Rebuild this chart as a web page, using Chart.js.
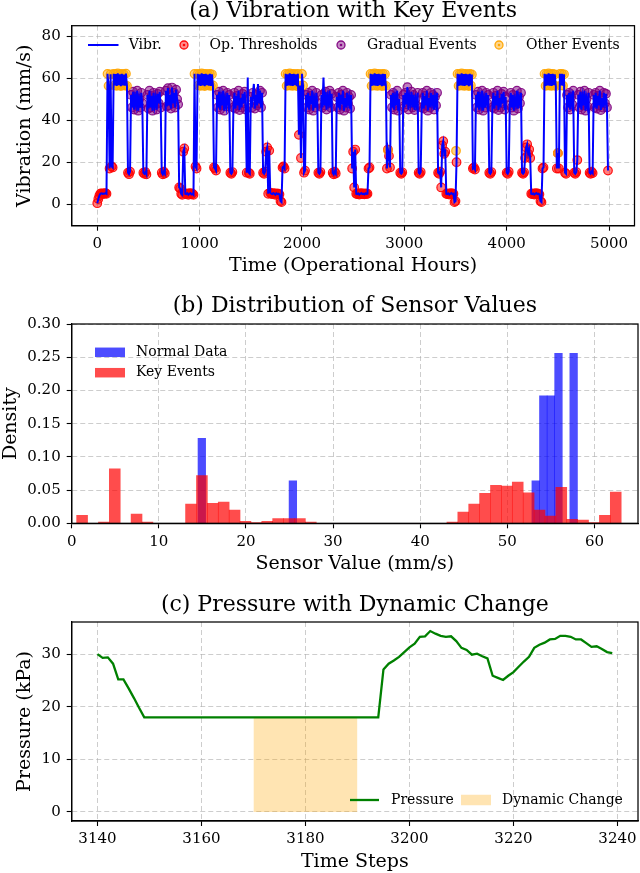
<!DOCTYPE html>
<html><head><meta charset="utf-8">
<script src="https://cdn.jsdelivr.net/npm/chart.js@4.4.1/dist/chart.umd.min.js"></script>
<style>
html,body{margin:0;padding:0;background:#fff;}
#wrap{position:relative;width:640px;height:873px;overflow:hidden;background:#fff;}
canvas{position:absolute;left:0;}
</style></head><body>
<div id="wrap">
<canvas id="ca" width="640" height="290" style="top:0px"></canvas>
<canvas id="cb" width="640" height="300" style="top:290px"></canvas>
<canvas id="cc" width="640" height="283" style="top:590px"></canvas>
</div>
<script>
// ---------------- DATA ----------------
// (a) vibration sampled every VIB_STEP hours starting at 0
const VIB_STEP = 10;
const vibValues = [
0.5,2.5,4,5,5.2,4.9,5.1,5,5.3,5,
62,56.3,17,61.8,18,17.5,62,56.5,61.9,56.3,
62.2,56.6,61.8,56.2,62,56.5,61.7,56.4,62.1,56.3,
15,14.3,15.5,52,46,53.5,45,51,47.5,54,
44.5,50,46,53,48,15,14.5,15.3,14.2,52,
45.5,54,46,51.5,44.5,53,47,50.5,45,52.5,
48,53.5,46,15,14.2,15.5,14.6,54,46.5,55.2,
47,52,45.5,55.5,48,53,46,54.5,50,47.5,
8,7.5,5,4.5,25,26.5,5,4.8,5.2,4.5,
5,5.3,4.7,5,4.5,62,18,17,62,56.5,
61.8,56.3,62.2,56.5,61.9,56.2,62,56.6,61.7,56.4,
62,56.3,61.8,56.5,17.5,17,16,52,46,53.5,
45,51,47,54,44.5,50,46.5,53,48,52,
15,14.5,15.3,46,53,45.5,51.5,47,54,44.8,
50.5,46,52.5,48,53.5,45,15,60.3,15,14.5,
51,46,53,57.2,45.5,52,47,57.2,48,54,
46,53,15,14.5,15.5,25,27,5,25.5,5.5,
5,4.8,5.3,5,4.5,5.2,4.8,5,4.7,1.5,
1,17.5,18,17,62,56.3,61.8,56.5,62.2,56.4,
61.9,56.3,62,56.6,61.8,56.2,62,33,56.4,22,
62,56.5,15,16,52,46,53,45,51.5,47.5,
54,44.5,50,46,53,48,15,14.5,15.3,52,
46,60.3,47,53.5,45,51,48,54,46,52.5,
15,14.2,15.5,14.6,51,46,53,45,52,47.5,
54,44.5,50.5,46,53,48,51,45.5,52,17,
25,8,26,5,4.8,5.2,4.6,5,5.3,4.8,
5,4.7,5.2,4.9,5,17,17.5,62,56.3,61.8,
56.5,62.2,56.4,61.9,56.3,62,56.6,61.8,56.2,62,
56.4,61.9,56.3,17,26,23,17.5,52,46,53,
45,51,47,54,44.5,50,15,14.5,15.2,52,
46,53,47.5,55.7,45,51,48,53.5,46,52,
44.8,50,47,53,15,14.5,15.3,46,53,45.5,
51.5,47,54,44.5,50.5,46,53,48,52,45,
51,47,53,15,14.5,15.5,8,28,30,24,
25,5,4.8,5.2,4.6,5,5.3,4.8,5,1,
1.5,20,62,56.3,61.8,56.5,62.2,56.4,61.9,56.3,
62,56.6,61.8,56.2,62,56.5,61.7,17,17.5,16.5,
52,46,53.5,45,51,47.5,54,44.5,50,46,
53,48,52,15,14.5,15.3,46,53,45.5,51.5,
47,54,44.8,50.5,46,52.5,48,53.5,45,51,
15,14.5,15.5,47,53,46,52,44.5,50,47.5,
54,45.5,51,48,53,15,14.5,15.2,22,27,
28.5,24,26,22,5,4.8,5.2,4.6,5,5.3,
4.8,5,4.7,1.5,1,17,17.5,62,56.3,61.8,
56.5,62.2,56.4,61.9,56.3,62,56.6,61.8,56.2,17,
24.3,17,62,56.5,62,56.4,61.8,15,14.5,52,
46,53,45,51,47.5,54,15,14.5,15.3,21,
52,46,53.5,45,51,47,54,44.5,50,46.5,
53,15,14.5,15.5,14.8,52,46,53,45.5,51.5,
47,54,44.8,50.5,46,53,48,52.5,46,16
];
// isolated "other events" (time, value)
const otherEventExtraT = [2841, 3505, 4500];
const otherEventExtraV = [25.5, 25.4, 24.3];
const vibTicksX = [0,1000,2000,3000,4000,5000];
const vibTicksY = [0,20,40,60,80];

// (b) histograms (density per bin)
const NORMAL_BIN_START = 14.5, NORMAL_BIN_WIDTH = 0.871;
const normalDensity = [
0.128,0,0,0,0,0,0,0,0,0,0,0,0.064,
0,0,0,0,0,0,0,0,0,0,0,0,0,0,0,0,0,0,0,0,0,0,0,0,0,0,0,0,0,0,0,
0.064,0.192,0.192,0.256,0,0.256
];
const KEY_BIN_START = 0.57, KEY_BIN_WIDTH = 1.25;
const keyDensity = [
0.012,0,0.002,0.082,0,0.014,0.002,0,0,0,
0.029,0.072,0.030,0.032,0.020,0.003,0.001,0.003,0.007,0.007,
0.007,0.002,0,0,0,0,0,0,0,0,
0,0,0,0,0.002,0.017,0.029,0.045,0.057,0.056,
0.062,0.046,0.020,0.011,0.054,0.006,0.005,0.001,0.012,0.047
];
const histTicksX = [0,10,20,30,40,50,60];
const histTicksY = [0,0.05,0.10,0.15,0.20,0.25,0.30];

// (c) pressure, one value per time step starting at PRESSURE_START
const PRESSURE_START = 3140;
const pressureValues = [
30.0,29.3,29.4,28.2,25.2,25.2,23.5,21.7,19.8,18.0,
18,18,18,18,18,18,18,18,18,18,
18,18,18,18,18,18,18,18,18,18,
18,18,18,18,18,18,18,18,18,18,
18,18,18,18,18,18,18,18,18,18,
18,18,18,18,18,
27.1,28.2,28.8,29.5,30.4,31.3,32.0,33.3,33.4,34.4,
33.9,33.5,33.3,33.4,32.5,31.2,30.8,29.9,30.1,29.6,
29.2,25.9,25.5,25.1,25.9,26.6,27.6,28.6,29.5,31.2,
31.8,32.2,32.8,32.9,33.5,33.5,33.3,32.8,32.8,32.1,
31.4,31.5,31.0,30.4,30.2
];
const dynamicChangeRange = [3170, 3190];
const pressTicksX = [3140,3160,3180,3200,3220,3240];
const pressTicksY = [0,10,20,30];

// ---------------- STYLE / HELPERS ----------------
const FONT = "'DejaVu Serif', serif";
const GRID = 'rgba(176,176,176,0.7)';
Chart.defaults.font.family = FONT;
Chart.defaults.color = '#000';

function mkScale(o) {
  return {
    type: 'linear', min: o.min, max: o.max, bounds: 'data', offset: false,
    afterBuildTicks: s => { s.ticks = o.ticks.map(v => ({value: v})); },
    afterFit: s => {
      if (o.isX) { s.height = o.size; s.paddingLeft = 0; s.paddingRight = 0; }
      else { s.width = o.size; s.paddingTop = 0; s.paddingBottom = 0; }
    },
    ticks: { color: '#000', font: {family: FONT, size: 15}, padding: o.isX ? 4.5 : 6,
             maxRotation: 0, minRotation: 0, autoSkip: false,
             callback: o.fmt || (v => String(v)) },
    grid: { offset: false, color: GRID, lineWidth: 0.9, drawTicks: true, tickLength: 5, tickWidth: 1.1, tickColor: '#000' },
    border: { display: true, color: '#000', width: 1.25, dash: [5, 3] },
    title: { display: !!o.title, text: o.title, color: '#000', font: {family: FONT, size: 19}, padding: o.titlePad }
  };
}
function mkTitle(text, top, bottom) {
  return { display: true, text, color: '#000', fullSize: false,
           font: {family: FONT, size: 22, weight: 'normal', lineHeight: 1},
           padding: {top, bottom} };
}

const frame = {
  id: 'frame',
  afterDraw(chart) {
    const {ctx, chartArea: a} = chart;
    ctx.save(); ctx.strokeStyle = '#000'; ctx.lineWidth = 1.25;
    ctx.strokeRect(a.left, a.top, a.right - a.left, a.bottom - a.top);
    ctx.restore();
  }
};
const inLegend = {
  id: 'inLegend',
  afterDraw(chart, args, opts) {
    const ctx = chart.ctx;
    ctx.save();
    ctx.font = "14px " + FONT;
    ctx.textBaseline = 'middle';
    ctx.textAlign = 'left';
    for (const it of (opts.items || [])) {
      if (it.kind === 'line') {
        ctx.strokeStyle = it.color; ctx.lineWidth = it.width; ctx.lineCap = 'butt';
        ctx.beginPath(); ctx.moveTo(it.x, it.y); ctx.lineTo(it.x + it.len, it.y); ctx.stroke();
      } else if (it.kind === 'marker') {
        ctx.beginPath(); ctx.arc(it.x, it.y, 4, 0, Math.PI * 2);
        ctx.fillStyle = it.fill; ctx.fill();
        ctx.lineWidth = 1.3; ctx.strokeStyle = it.stroke; ctx.stroke();
        ctx.beginPath(); ctx.arc(it.x, it.y, 1.3, 0, Math.PI * 2);
        ctx.fillStyle = it.stroke; ctx.fill();
      } else if (it.kind === 'patch') {
        ctx.fillStyle = it.color; ctx.fillRect(it.x, it.y - it.h / 2, it.w, it.h);
      }
      ctx.fillStyle = '#000';
      ctx.fillText(it.label, it.tx, it.y);
    }
    ctx.restore();
  }
};

// ---------------- (a) ----------------
const vibPts = vibValues.map((v, i) => ({x: i * VIB_STEP, y: v}));
const opPts = [], gradPts = [], otherPts = [];
vibPts.forEach(p => {
  const v = p.y;
  if (v >= 60.5 || (v >= 55.8 && v < 57)) otherPts.push(p);
  else if (v >= 42 && v < 55.8) gradPts.push(p);
  else if (v < 42) opPts.push(p);
});
otherEventExtraT.forEach((t, i) => otherPts.push({x: t, y: otherEventExtraV[i]}));

function markerSet(label, pts, rgb, order) {
  return { type: 'scatter', label, data: pts, order,
    pointRadius: 4.3, pointHoverRadius: 4.3, pointStyle: 'circle',
    pointBackgroundColor: `rgba(${rgb},0.5)`, pointBorderColor: `rgba(${rgb},0.9)`, pointBorderWidth: 1.2,
    showLine: false };
}

new Chart(document.getElementById('ca'), {
  type: 'line',
  data: { datasets: [
    { label: 'Vibr.', data: vibPts, borderColor: '#0000ff', borderWidth: 2, pointRadius: 0, tension: 0, order: 0, fill: false },
    markerSet('Other Events', otherPts, '255,165,0', 1),
    markerSet('Gradual Events', gradPts, '128,0,128', 2),
    markerSet('Op. Thresholds', opPts, '255,0,0', 3)
  ]},
  options: {
    responsive: false, animation: false, events: [],
    layout: { padding: {left: 0, right: 2, top: 0, bottom: 0} },
    scales: {
      x: mkScale({isX: true, min: -249.95, max: 5248.95, ticks: vibTicksX, size: 64.3,
                  title: 'Time (Operational Hours)', titlePad: {top: 0, bottom: 12.1}}),
      y: mkScale({min: -10.2, max: 84.9, ticks: vibTicksY, size: 71.7,
                  title: 'Vibration (mm/s)', titlePad: {top: 14, bottom: 0}})
    },
    plugins: {
      legend: {display: false}, tooltip: {enabled: false},
      title: mkTitle('(a) Vibration with Key Events', 0, 3.7),
      inLegend: { items: [
        {kind: 'line', x: 88, len: 30.5, y: 45, color: '#0000ff', width: 2, label: 'Vibr.', tx: 128.7},
        {kind: 'marker', x: 184, y: 45, fill: 'rgba(255,0,0,0.45)', stroke: 'rgba(255,0,0,0.95)', label: 'Op. Thresholds', tx: 209.6},
        {kind: 'marker', x: 341, y: 45, fill: 'rgba(128,0,128,0.45)', stroke: 'rgba(128,0,128,0.95)', label: 'Gradual Events', tx: 367},
        {kind: 'marker', x: 499, y: 45, fill: 'rgba(255,165,0,0.45)', stroke: 'rgba(255,165,0,0.95)', label: 'Other Events', tx: 526}
      ]}
    }
  },
  plugins: [frame, inLegend]
});

// ---------------- (b) ----------------
const normalBars = normalDensity.map((d, i) => ({x: NORMAL_BIN_START + (i + 0.5) * NORMAL_BIN_WIDTH, y: d}));
const keyBars = keyDensity.map((d, i) => ({x: KEY_BIN_START + (i + 0.5) * KEY_BIN_WIDTH, y: d}));
const x2Scale = mkScale({isX: true, min: 0, max: 65, ticks: histTicksX, size: 0});
x2Scale.display = false;

new Chart(document.getElementById('cb'), {
  type: 'bar',
  data: { datasets: [
    { label: 'Key Events', data: keyBars, xAxisID: 'x2', backgroundColor: 'rgba(255,0,0,0.7)', borderWidth: 0,
      barPercentage: 1, categoryPercentage: 1, grouped: false, order: 0 },
    { label: 'Normal Data', data: normalBars, xAxisID: 'x', backgroundColor: 'rgba(0,0,255,0.7)', borderWidth: 0,
      barPercentage: 1, categoryPercentage: 1, grouped: false, order: 1 }
  ]},
  options: {
    responsive: false, animation: false, events: [],
    layout: { padding: {left: 0, right: 2, top: 0, bottom: 0} },
    scales: {
      x: mkScale({isX: true, min: 0, max: 65, ticks: histTicksX, size: 66.7,
                  title: 'Sensor Value (mm/s)', titlePad: {top: 0, bottom: 14.6}}),
      x2: x2Scale,
      y: mkScale({min: 0, max: 0.30, ticks: histTicksY, size: 71.7, fmt: v => v.toFixed(2),
                  title: 'Density', titlePad: {top: 0, bottom: 0}})
    },
    plugins: {
      legend: {display: false}, tooltip: {enabled: false},
      title: mkTitle('(b) Distribution of Sensor Values', 5.7, 6.3),
      inLegend: { items: [
        {kind: 'patch', x: 95, y: 62.3, w: 30, h: 9.5, color: 'rgba(0,0,255,0.7)', label: 'Normal Data', tx: 136},
        {kind: 'patch', x: 95, y: 82.7, w: 30, h: 9.5, color: 'rgba(255,0,0,0.7)', label: 'Key Events', tx: 136}
      ]}
    }
  },
  plugins: [frame, inLegend]
});

// ---------------- (c) ----------------
const pressPts = pressureValues.map((v, i) => ({x: PRESSURE_START + i, y: v}));
const dynPts = pressPts.filter(p => p.x >= dynamicChangeRange[0] && p.x <= dynamicChangeRange[1]);

new Chart(document.getElementById('cc'), {
  type: 'line',
  data: { datasets: [
    { label: 'Pressure', data: pressPts, borderColor: '#008000', borderWidth: 2.3, pointRadius: 0, tension: 0, fill: false, order: 0 },
    { label: 'Dynamic Change', data: dynPts, borderWidth: 0, borderColor: 'rgba(0,0,0,0)', pointRadius: 0,
      fill: 'origin', backgroundColor: 'rgba(255,165,0,0.3)', order: 1 }
  ]},
  options: {
    responsive: false, animation: false, events: [],
    layout: { padding: {left: 0, right: 2, top: 0, bottom: 0} },
    scales: {
      x: mkScale({isX: true, min: 3135.05, max: 3243.95, ticks: pressTicksX, size: 52,
                  title: 'Time Steps', titlePad: {top: 0, bottom: 0}}),
      y: mkScale({min: -1.72, max: 36.12, ticks: pressTicksY, size: 71.7,
                  title: 'Pressure (kPa)', titlePad: {top: 14, bottom: 0}})
    },
    plugins: {
      legend: {display: false}, tooltip: {enabled: false},
      title: mkTitle('(c) Pressure with Dynamic Change', 4, 6),
      inLegend: { items: [
        {kind: 'line', x: 350, len: 29, y: 210, color: '#008000', width: 2.3, label: 'Pressure', tx: 391},
        {kind: 'patch', x: 461, y: 210, w: 30, h: 10.5, color: 'rgba(255,165,0,0.3)', label: 'Dynamic Change', tx: 502}
      ]}
    }
  },
  plugins: [frame, inLegend]
});
</script>
</body></html>
